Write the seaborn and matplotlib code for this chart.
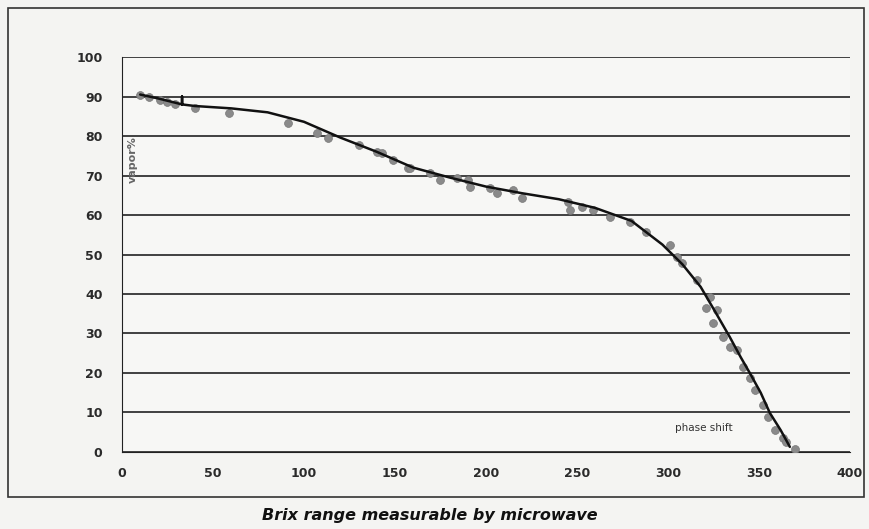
import numpy as np
import pandas as pd
import seaborn as sns
import matplotlib.pyplot as plt
from matplotlib.patches import Rectangle

# measured points (gray dots)
pt_x = [10, 15, 21, 25, 29, 40, 59, 91, 107, 113, 130, 140, 143, 149, 157, 158,
        169, 175, 184, 190, 191, 202, 206, 215, 220, 245, 246, 253, 259, 268,
        279, 288, 301, 305, 308, 316, 321, 323, 325, 327, 330, 334, 338, 341,
        345, 348, 352, 355, 359, 363, 365, 370]
pt_y = [90.5, 89.9, 89.0, 88.5, 88.0, 87.1, 85.8, 83.3, 80.8, 79.5, 77.7, 76.0,
        75.7, 73.9, 71.9, 71.9, 70.6, 68.9, 69.4, 68.9, 67.1, 66.8, 65.6, 66.3,
        64.3, 63.3, 61.3, 62.0, 61.3, 59.5, 58.2, 55.7, 52.4, 49.4, 47.8, 43.5,
        36.5, 39.2, 32.7, 35.9, 29.1, 26.6, 25.8, 21.5, 18.7, 15.7, 11.9, 8.9,
        5.6, 3.5, 2.5, 0.8]

# fitted curve (black line)
fit_x = [10, 20, 33, 33, 33, 40, 60, 80, 100, 120, 140, 160, 180, 200, 220,
         240, 260, 280, 297, 308, 318, 326, 334, 340, 345, 351, 356, 362, 367]
fit_y = [90.5, 89.5, 88.0, 90.0, 88.0, 87.6, 87.0, 86.0, 83.6, 79.6, 76.0, 72.0,
         69.5, 67.2, 65.5, 64.0, 61.8, 58.5, 52.5, 47.5, 41.8, 35.5, 29.1, 24.0,
         20.0, 15.0, 9.9, 5.5, 1.3]

xticks = [0, 50, 100, 150, 200, 250, 300, 350, 400]
yticks = [0, 10, 20, 30, 40, 50, 60, 70, 80, 90, 100]

sns.set_style("white")
fig = plt.figure(figsize=(8.69, 5.29), dpi=100, facecolor="#f4f4f2")
ax = fig.add_axes([0.1404, 0.1456, 0.8376, 0.7466])
ax.set_facecolor("#f7f7f5")

pts = pd.DataFrame({"x": pt_x, "y": pt_y})
fit = pd.DataFrame({"x": fit_x, "y": fit_y})
sns.scatterplot(data=pts, x="x", y="y", ax=ax, color="#8a8a8a", s=32,
                edgecolor="#777777", linewidth=0.5, zorder=3)
sns.lineplot(data=fit, x="x", y="y", ax=ax, sort=False, estimator=None,
             color="#111111", lw=1.8, zorder=4)

ax.set_xlim(0, 400)
ax.set_ylim(0, 100)
ax.set_xticks(xticks)
ax.set_yticks(yticks)
ax.set_xticklabels([str(t) for t in xticks], fontsize=9, fontweight="heavy", color="#2a2a2a")
ax.set_yticklabels([str(t) for t in yticks], fontsize=9, fontweight="heavy", color="#2a2a2a")
ax.tick_params(axis="both", length=6, width=1, color="#222222", pad=8)
ax.tick_params(axis="x", direction="inout")
for y in yticks:
    ax.axhline(y, color="#222222", lw=1.2, zorder=1)
sns.despine(ax=ax, top=True, right=True)
ax.spines["left"].set_color("#222222")
ax.spines["bottom"].set_color("#222222")
ax.set_xlabel("")
ax.set_ylabel("")

ax.text(6, 80, "vapor%", rotation=90, fontsize=8, fontweight="bold",
        color="#666666", ha="center", va="top")
ax.text(320, 6, "phase shift", fontsize=7.5, color="#333333", ha="center", va="center")

fig.patches.append(Rectangle((0.009, 0.06), 0.985, 0.925, transform=fig.transFigure,
                             fill=False, edgecolor="#333333", lw=1.2))
fig.text(0.495, 0.025, "Brix range measurable by microwave", ha="center", va="center",
         fontsize=11.5, fontweight="bold", fontstyle="italic", color="#111111")

fig.savefig("out.png", dpi=100, facecolor=fig.get_facecolor())
